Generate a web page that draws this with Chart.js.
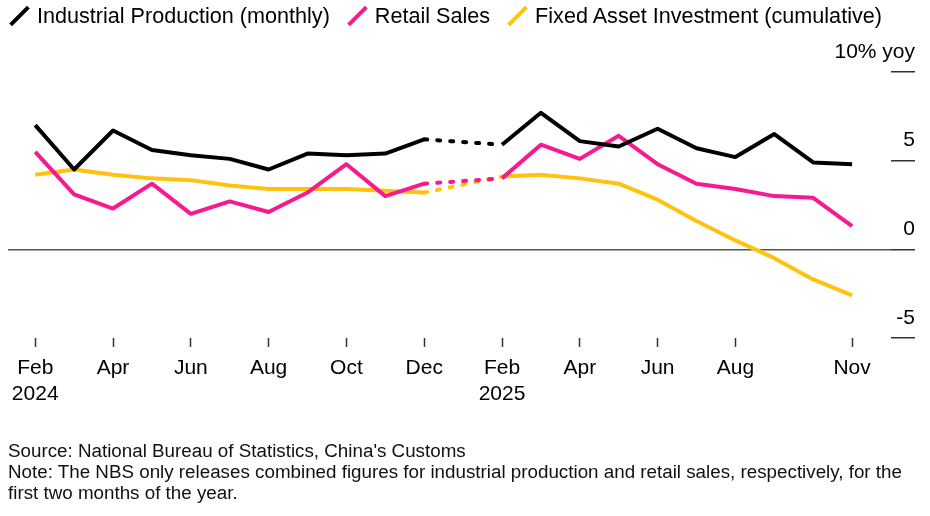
<!DOCTYPE html>
<html>
<head>
<meta charset="utf-8">
<script src="https://cdn.jsdelivr.net/npm/chart.js@4.4.1/dist/chart.umd.min.js"></script>
<style>
  html, body { margin:0; padding:0; background:#fff; }
  body { width:930px; height:516px; position:relative; overflow:hidden; font-family:"Liberation Sans", Arial, sans-serif; }
  #wrap { position:absolute; left:0; top:0; width:930px; height:516px; }
  #legend { position:absolute; left:9px; top:3px; font-size:21.6px; color:#000; white-space:nowrap; display:flex; align-items:center; height:26px; }
  .item { display:flex; align-items:center; margin-right:17px; }
  .sw { width:19px; height:18px; margin-right:9px; position:relative; }
  .sw::after { content:""; position:absolute; left:-2px; top:7px; width:25px; height:4px; background:var(--c); transform:rotate(-45deg); }
  #footer { position:absolute; left:8px; top:440px; font-size:18.8px; line-height:21px; color:#111; width:922px; white-space:nowrap; }
</style>
</head>
<body>
<div id="wrap"><canvas id="c" width="930" height="516"></canvas></div>
<div id="legend"></div>
<div id="footer">Source: National Bureau of Statistics, China's Customs<br>Note: The NBS only releases combined figures for industrial production and retail sales, respectively, for the<br>first two months of the year.</div>
<script>
// ---- data ----
const categories = ['2024-02','2024-03','2024-04','2024-05','2024-06','2024-07','2024-08','2024-09','2024-10','2024-11','2024-12',
                    '2025-02','2025-03','2025-04','2025-05','2025-06','2025-07','2025-08','2025-09','2025-10','2025-11'];
const industrialProduction = [7.0, 4.5, 6.7, 5.6, 5.3, 5.1, 4.5, 5.4, 5.3, 5.4, 6.2, 5.9, 7.7, 6.1, 5.8, 6.8, 5.7, 5.2, 6.5, 4.9, 4.8];
const retailSales          = [5.5, 3.1, 2.3, 3.7, 2.0, 2.7, 2.1, 3.2, 4.8, 3.0, 3.7, 4.0, 5.9, 5.1, 6.4, 4.8, 3.7, 3.4, 3.0, 2.9, 1.3];
const fixedAssetInvestment = [4.2, 4.5, 4.2, 4.0, 3.9, 3.6, 3.4, 3.4, 3.4, 3.3, 3.2, 4.1, 4.2, 4.0, 3.7, 2.8, 1.6, 0.5, -0.5, -1.7, -2.6];
const seriesNames  = ['Industrial Production (monthly)', 'Retail Sales', 'Fixed Asset Investment (cumulative)'];
const seriesColors = ['#000000', '#f7198f', '#ffc20e'];
const xTickMonths = ['2024-02','2024-04','2024-06','2024-08','2024-10','2024-12','2025-02','2025-04','2025-06','2025-08','2025-11'];
const xTickLabels = [['Feb','2024'],'Apr','Jun','Aug','Oct','Dec',['Feb','2025'],'Apr','Jun','Aug','Nov'];
const yTickValues = [10, 5, 0, -5];
const yTickLabels = ['10% yoy', '5', '0', '-5'];

const monthIndex = s => { const [y, m] = s.split('-').map(Number); return (y - 2024) * 12 + (m - 2); };
const xs = categories.map(monthIndex);
const tickXs = xTickMonths.map(monthIndex);

// legend
const lg = document.getElementById('legend');
seriesNames.forEach((n, i) => {
  const d = document.createElement('div'); d.className = 'item';
  const s = document.createElement('span'); s.className = 'sw'; s.style.setProperty('--c', seriesColors[i]);
  const t = document.createElement('span'); t.textContent = n;
  d.appendChild(s); d.appendChild(t); lg.appendChild(d);
});

const isGap = ctx => xs[ctx.p1DataIndex] - xs[ctx.p0DataIndex] > 1;
const gapDash = ctx => isGap(ctx) ? [3, 10] : undefined;
const gapCap = ctx => isGap(ctx) ? 'round' : undefined;

function mk(vals, i) {
  return {
    label: seriesNames[i],
    data: vals.map((v, k) => ({ x: xs[k], y: v })),
    borderColor: seriesColors[i],
    borderWidth: 4,
    pointRadius: 0,
    tension: 0,
    borderJoinStyle: 'round',
    segment: { borderDash: gapDash, borderCapStyle: gapCap }
  };
}

const yLabelPlugin = {
  id: 'yLabels',
  afterDraw(chart) {
    const s = chart.scales.y, c = chart.ctx;
    c.save();
    c.font = '21px "Liberation Sans", Arial, sans-serif';
    c.fillStyle = '#000';
    c.textAlign = 'right';
    c.textBaseline = 'middle';
    yTickValues.forEach((v, i) => c.fillText(yTickLabels[i], s.right, s.getPixelForValue(v) - 20));
    c.restore();
  }
};

new Chart(document.getElementById('c'), {
  type: 'line',
  data: { datasets: [mk(industrialProduction, 0), mk(retailSales, 1), mk(fixedAssetInvestment, 2)] },
  options: {
    responsive: false,
    animation: false,
    layout: { padding: { left: 8, right: 15, top: 72, bottom: 101 } },
    plugins: { legend: { display: false }, tooltip: { enabled: false } },
    scales: {
      x: {
        type: 'linear', min: -0.7, max: 22.0,
        border: { display: false },
        afterBuildTicks: sc => { sc.ticks = tickXs.map(v => ({ value: v })); },
        grid: { drawOnChartArea: false, drawTicks: true, tickLength: 9, tickColor: '#333', tickWidth: 1.5 },
        ticks: {
          autoSkip: false, maxRotation: 0, padding: 8, color: '#000',
          font: { family: '"Liberation Sans", Arial, sans-serif', size: 21, lineHeight: 1.24 },
          callback: v => xTickLabels[tickXs.indexOf(v)]
        }
      },
      y: {
        position: 'right', min: -5, max: 10,
        border: { display: false },
        afterBuildTicks: sc => { sc.ticks = yTickValues.map(v => ({ value: v })); },
        grid: {
          drawTicks: true, tickLength: 24,
          color: c => c.tick && c.tick.value === 0 ? '#555' : 'rgba(0,0,0,0)',
          lineWidth: 1.5, tickColor: '#333', tickWidth: 1.5
        },
        ticks: { display: false }
      }
    }
  },
  plugins: [yLabelPlugin]
});
</script>
</body>
</html>
